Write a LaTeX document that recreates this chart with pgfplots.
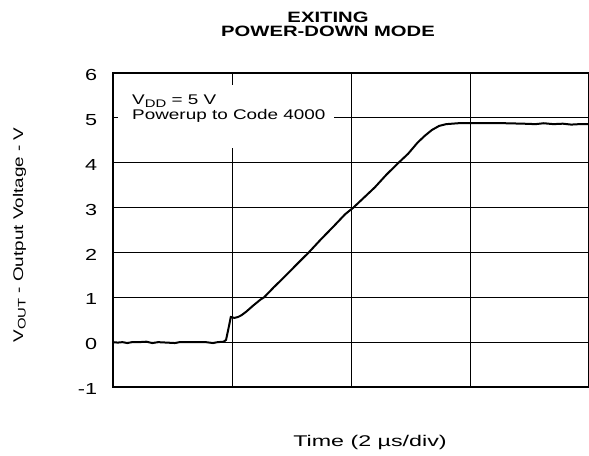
\documentclass[border=0pt]{standalone}
\usepackage{fontspec}
\setmainfont{Liberation Sans}[FakeStretch=1.35]
\newfontfamily\widesans{Liberation Sans}[FakeStretch=1.5]
\newcommand{\sub}[1]{\raisebox{-2.5bp}{\fontsize{11bp}{12bp}\selectfont #1}}
\usepackage{pgfplots}
\pgfplotsset{compat=1.18}
\begin{document}
\fontsize{14bp}{16bp}\selectfont
\begin{tikzpicture}
\useasboundingbox (0,0) rectangle (589bp,456bp);
\begin{axis}[
  at={(113bp,69bp)}, anchor=south west,
  scale only axis, width=476bp, height=314bp,
  xmin=0, xmax=4, ymin=-1, ymax=6,
  xtick={1,2,3}, xticklabels={},
  ytick={-1,0,1,2,3,4,5,6},
  yticklabels={-1,0,1,2,3,4,5,6},
  grid=major,
  major grid style={black, line width=0.9bp},
  major tick length=0pt,
  axis line style={line width=2bp},
  yticklabel style={font=\fontsize{16bp}{18bp}\selectfont, xshift=-11bp, yshift=-2bp},
  /pgf/number format/assume math mode=true,
]
\fill[white] (axis cs:0.045,4.33) rectangle (axis cs:1.86,5.73);
\addplot[black, line width=2bp] coordinates {
(0.00,0.00) (0.04,-0.01) (0.08,0.00) (0.12,-0.02) (0.16,0.00) (0.22,0.00)
(0.28,0.01) (0.33,-0.02) (0.38,0.00) (0.45,-0.01) (0.52,-0.02) (0.56,0.00)
(0.62,0.00) (0.70,0.00) (0.78,0.00) (0.84,-0.02) (0.88,0.00) (0.93,0.01)
(0.95,0.05) (0.97,0.30) (0.99,0.56) (1.02,0.54) (1.05,0.56) (1.08,0.60)
(1.12,0.68) (1.18,0.82) (1.24,0.95) (1.27,1.00) (1.35,1.22) (1.45,1.48)
(1.55,1.75) (1.645,2.00) (1.75,2.30) (1.85,2.57) (1.95,2.85) (2.02,3.00)
(2.10,3.20) (2.20,3.45) (2.30,3.74) (2.40,4.00) (2.48,4.20) (2.56,4.45)
(2.62,4.60) (2.68,4.73) (2.74,4.82) (2.80,4.86) (2.90,4.88) (3.10,4.88)
(3.30,4.88) (3.45,4.87) (3.55,4.86) (3.62,4.88) (3.70,4.86) (3.78,4.87)
(3.85,4.85) (3.92,4.86) (4.00,4.86)
};
\end{axis}
\node[anchor=base west, inner sep=0] at (132bp,351bp) {V\sub{DD} = 5 V};
\node[anchor=base west, inner sep=0] at (132bp,336bp) {Powerup to Code 4000};
\node[anchor=base, inner sep=0, font=\fontsize{15bp}{18bp}\bfseries] at (328bp,433.5bp) {EXITING};
\node[anchor=base, inner sep=0, font=\fontsize{15bp}{18bp}\bfseries] at (328bp,419bp) {POWER-DOWN MODE};
\node[anchor=base, inner sep=0, font=\widesans\fontsize{15.5bp}{18bp}\selectfont] at (370bp,10bp) {Time (2 \textmu s/div)};
\node[anchor=base, inner sep=0, rotate=90, font=\fontsize{14bp}{18bp}\selectfont] at (23bp,221bp) {V\sub{OUT} - Output Voltage - V};
\end{tikzpicture}
\end{document}
